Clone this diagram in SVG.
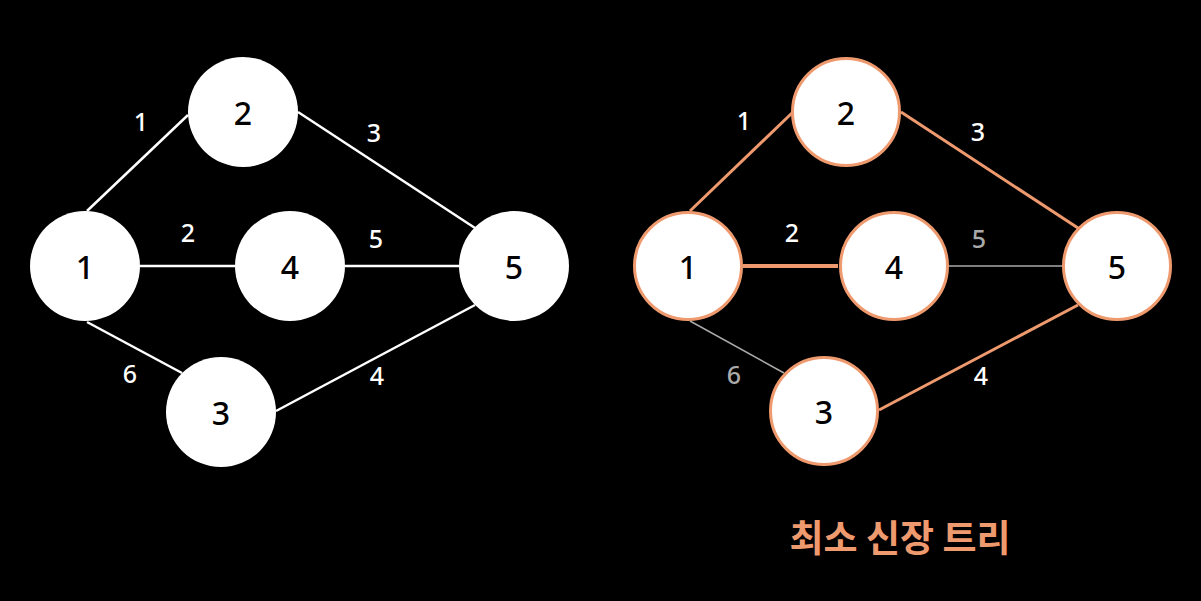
<svg xmlns="http://www.w3.org/2000/svg" width="1201" height="601" viewBox="0 0 1201 601">
<style>
.bg{fill:#000}
.nw{fill:#fff}
.no{fill:#fff;stroke:#EE9A6E;stroke-width:3}
.nt{font-family:"Noto Sans","Noto Sans CJK KR",sans-serif;font-size:32px;font-weight:500;fill:#000;text-anchor:middle;dominant-baseline:central}
.lw{font-family:"Noto Sans","Noto Sans CJK KR",sans-serif;font-size:25px;font-weight:500;fill:#fff;text-anchor:middle;dominant-baseline:central}
.lg{font-family:"Noto Sans","Noto Sans CJK KR",sans-serif;font-size:25px;font-weight:500;fill:#aaa;text-anchor:middle;dominant-baseline:central}
.ew{stroke:#fff;stroke-width:2.5;fill:none}
.eo{stroke:#EE9A6E;stroke-width:3;fill:none}
.eg{stroke:#aaa;stroke-width:1.5;fill:none}
.title{font-family:"Noto Sans CJK KR","Noto Sans",sans-serif;font-size:37px;font-weight:bold;fill:#EE9A6E;text-anchor:middle;dominant-baseline:central}
</style>
<rect class="bg" x="0" y="0" width="1201" height="601"/>
<g id="connectors-left">
<line class="ew" x1="87" y1="211" x2="188" y2="115"/>
<line class="ew" x1="298" y1="112" x2="475" y2="228"/>
<line class="ew" x1="140" y1="266" x2="235" y2="266"/>
<line class="ew" x1="345" y1="266" x2="459" y2="266"/>
<line class="ew" x1="87" y1="322" x2="182" y2="373"/>
<line class="ew" x1="276" y1="411" x2="475" y2="305"/>
</g>
<g id="connectors-right">
<line class="eo" x1="690" y1="211" x2="792" y2="113"/>
<line class="eo" x1="901" y1="112" x2="1078" y2="228"/>
<line class="eo" x1="743" y1="266" x2="838" y2="266" style="stroke-width:4"/>
<line class="eg" x1="948" y1="266" x2="1062" y2="266"/>
<line class="eg" x1="690" y1="321" x2="784" y2="373"/>
<line class="eo" x1="879" y1="410" x2="1078" y2="305"/>
</g>
<g id="labels-left">
<text class="lw" x="141" y="121">1</text>
<text class="lw" x="374" y="132">3</text>
<text class="lw" x="188" y="232">2</text>
<text class="lw" x="376" y="238">5</text>
<text class="lw" x="130" y="373">6</text>
<text class="lw" x="377" y="375">4</text>
</g>
<g id="labels-right">
<text class="lw" x="744" y="120">1</text>
<text class="lw" x="978" y="131">3</text>
<text class="lw" x="792" y="232">2</text>
<text class="lg" x="979" y="238">5</text>
<text class="lg" x="734" y="374">6</text>
<text class="lw" x="981" y="375">4</text>
</g>
<g id="L1"><circle class="nw" cx="85" cy="266" r="55"/><text class="nt" x="85" y="266">1</text></g>
<g id="L2"><circle class="nw" cx="243" cy="112" r="55"/><text class="nt" x="243" y="112">2</text></g>
<g id="L4"><circle class="nw" cx="290" cy="266" r="55"/><text class="nt" x="290" y="266">4</text></g>
<g id="L5"><circle class="nw" cx="514" cy="266" r="55"/><text class="nt" x="514" y="266">5</text></g>
<g id="L3"><circle class="nw" cx="221" cy="412" r="55"/><text class="nt" x="221" y="412">3</text></g>
<g id="R1"><circle class="no" cx="688" cy="266" r="53.5"/><text class="nt" x="688" y="266">1</text></g>
<g id="R2"><circle class="no" cx="846" cy="112" r="53.5"/><text class="nt" x="846" y="112">2</text></g>
<g id="R4"><circle class="no" cx="894" cy="266" r="53.5"/><text class="nt" x="894" y="266">4</text></g>
<g id="R5"><circle class="no" cx="1117" cy="266" r="53.5"/><text class="nt" x="1117" y="266">5</text></g>
<g id="R3"><circle class="no" cx="824" cy="411" r="53.5"/><text class="nt" x="824" y="411">3</text></g>
<g id="title"><text class="title" x="900" y="536">최소 신장 트리</text></g>
</svg>
